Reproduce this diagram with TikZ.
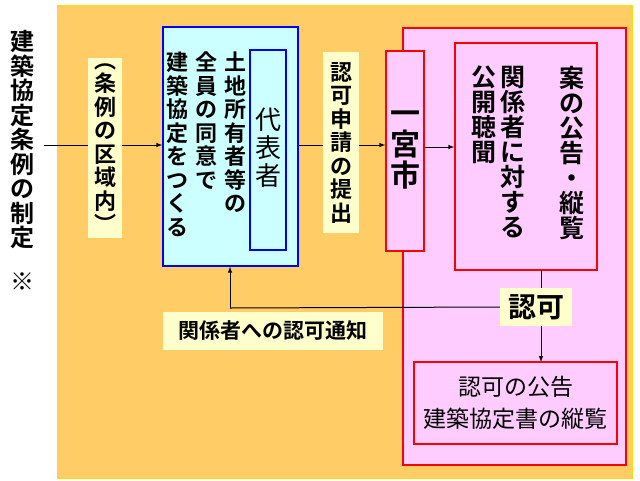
\documentclass[tikz,border=0pt]{standalone}
\usepackage{fontspec}
\newfontfamily\jp{Noto Sans CJK JP}
\newfontfamily\jpb{Noto Sans CJK JP Bold}
\definecolor{org}{RGB}{255,204,102}
\definecolor{cyn}{RGB}{204,255,255}
\definecolor{pnk}{RGB}{255,204,255}
\definecolor{pyl}{RGB}{255,255,204}
\definecolor{blu}{RGB}{0,0,255}
\begin{document}
\begin{tikzpicture}[x=1pt,y=-1pt,
  box/.style={draw, line width=1.5pt, inner sep=0pt},
  lab/.style={fill=pyl, inner sep=2pt},
  vt/.style={align=center, font=\jpb\fontsize{22}{23.5}\selectfont, inner sep=0pt},
  arr/.style={-latex, line width=1pt}]
\useasboundingbox (0,0) rectangle (640,480);
\fill[white] (0,0) rectangle (640,480);
\draw[fill=org, draw=yellow!80!orange, line width=1pt] (57,5) rectangle (632,478);
% left
\node[vt, font=\jpb\fontsize{24}{24.5}\selectfont] (cond) at (22,140) {建\\築\\協\\定\\条\\例\\の\\制\\定};
\node[vt, font=\jpb\fontsize{24}{24}\selectfont] (kome) at (22,282) {※};
% cyan box
\node[box, draw=blu, fill=cyn, minimum width=135, minimum height=239] (cy) at (230.5,146.5) {};
\node[box, draw=blu, fill=cyn, minimum width=36, minimum height=200] (rep) at (268,150) {};
\node[vt, font=\jp\fontsize{26}{28}\selectfont] at (268,148) {代\\表\\者};
\node[vt, anchor=north] at (235,52) {土\\地\\所\\有\\者\\等\\の};
\node[vt, anchor=north] at (206,52) {全\\員\\の\\同\\意\\で};
\node[vt, anchor=north] at (177,52) {建\\築\\協\\定\\を\\つ\\く\\る};
% pink
\draw[fill=pnk, draw=red, line width=1.5pt] (403,28) rectangle (626,465);
\node[box, draw=red, fill=pnk, minimum width=38, minimum height=200] (city) at (405,151) {};
\node[vt, font=\jpb\fontsize{30}{31}\selectfont] at (405,150) {一\\宮\\市};
\node[box, draw=red, fill=pnk, minimum width=142, minimum height=227] (pub) at (526,156.5) {};
\node[vt, anchor=north, font=\jpb\fontsize{25}{25}\selectfont] at (572,66) {案\\の\\公\\告\\・\\縦\\覧};
\node[vt, anchor=north, font=\jpb\fontsize{25}{25}\selectfont] at (513,66) {関\\係\\者\\に\\対\\す\\る};
\node[vt, anchor=north, font=\jpb\fontsize{25}{25}\selectfont] at (484,66) {公\\開\\聴\\聞};
\node[box, draw=red, fill=pnk, minimum width=203, minimum height=82] (fin) at (515.5,403) {};
\node[align=center, font=\jp\fontsize{23}{32}\selectfont] at (515.5,403) {認可の公告\\建築協定書の縦覧};
% arrows and labels
\coordinate (s) at (44,145);
\draw[arr] (s) -- (cy.west |- s);
\node[lab, vt, fill=pyl, minimum width=34, minimum height=180] at (105,148) {︵\\条\\例\\の\\区\\域\\内\\︶};
\draw[arr] (cy.east |- 0,145) -- (city.west |- 0,145);
\node[lab, vt, minimum width=36, minimum height=181] at (341,142.5) {認\\可\\申\\請\\の\\提\\出};
\draw[arr] (city.east |- 0,147) -- (pub.west |- 0,147);
\node[lab, font=\jpb\fontsize{28}{28}\selectfont, minimum width=72, minimum height=38, inner sep=0pt] (ok) at (536,307) {認可};
\draw[line width=1pt] (541,270) -- (541 ,288);
\draw[arr] (541,326) -- (541,362);
\coordinate (c) at (230,308);
\draw[line width=1pt] (ok.west) -- (c);
\draw[arr] (c) -- (cy.south -| c);
\node[lab, font=\jpb\fontsize{21}{21}\selectfont, minimum width=220, minimum height=38, inner sep=0pt] (note) at (273,331) {関係者への認可通知};
\end{tikzpicture}
\end{document}
